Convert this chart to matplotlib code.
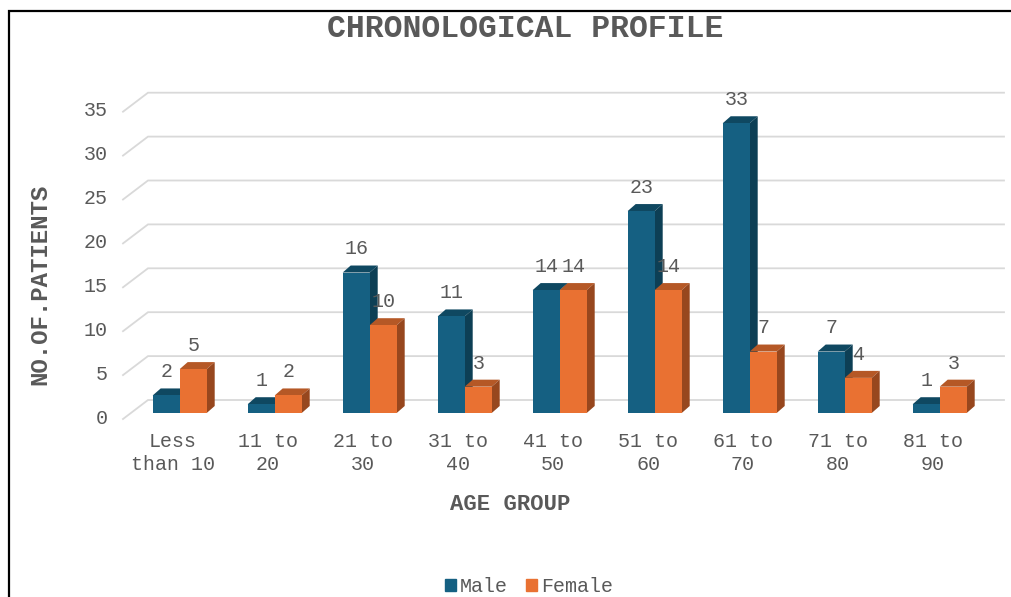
import numpy as np
import matplotlib.pyplot as plt
from matplotlib.lines import Line2D
from matplotlib.patches import Patch
from matplotlib.transforms import ScaledTranslation

categories = ['Less\nthan 10', '11 to\n20', '21 to\n30', '31 to\n40', '41 to\n50',
              '51 to\n60', '61 to\n70', '71 to\n80', '81 to\n90']
male = [2, 1, 16, 11, 14, 23, 33, 7, 1]
female = [5, 2, 10, 3, 14, 14, 7, 4, 3]
yticks = [0, 5, 10, 15, 20, 25, 30, 35]

W, H = 1011, 597
TXT = '#595959'
plt.rcParams['font.family'] = ['Liberation Mono', 'DejaVu Sans']

fig = plt.figure(figsize=(W / 100, H / 100), dpi=100)

# plot area in pixels: front plane of the 3D box
ax = fig.add_axes([125 / W, 1 - 413 / H, 855 / W, 307.3 / H])
for s in ax.spines.values():
    s.set_visible(False)

# px to data sizes
px_x = 1 / 95
px_y = 35 / 307.3
dx = 8 * px_x
dy = 7 * px_y
bar_w = 27 * px_x


def bar3d(x, vals, front, top, side, z):
    ax.bar(x, vals, bar_w, align='edge', color=front, zorder=z + 1, clip_on=False)
    for xi, v in zip(x, vals):
        ax.fill([xi, xi + dx, xi + bar_w + dx, xi + bar_w],
                [v, v + dy, v + dy, v], color=top, lw=0, zorder=z, clip_on=False)
        ax.fill([xi + bar_w, xi + bar_w + dx, xi + bar_w + dx, xi + bar_w],
                [0, dy, v + dy, v], color=side, lw=0, zorder=z, clip_on=False)


# floor / wall gridlines
for v in yticks:
    ax.plot([-0.6, -32 * px_x, 824 * px_x],
            [v - 6 * px_y, v + 13 * px_y, v + 13 * px_y],
            color='#d9d9d9', lw=1.3, zorder=1, clip_on=False, solid_joinstyle='miter')

x = np.arange(len(categories))
bar3d(x - bar_w - 0.3 * px_x, male, '#156082', '#0f4861', '#0d3f55', 3)
bar3d(x - 0.3 * px_x, female, '#e97132', '#b55826', '#97471e', 5)

# data labels
for xi, m, f in zip(x, male, female):
    ax.annotate(str(m), (xi - bar_w / 2, m), xytext=(0, 17), textcoords='offset points',
                ha='center', va='center', fontsize=14.4, color=TXT, zorder=8)
    ax.annotate(str(f), (xi + bar_w / 2, f), xytext=(0, 17), textcoords='offset points',
                ha='center', va='center', fontsize=14.4, color=TXT, zorder=8)

ax.set_xticks(x - 7 * px_x, categories, fontsize=14.4, color=TXT, linespacing=1.25)
ax.set_yticks(yticks, yticks, fontsize=14.4, color=TXT)
ax.tick_params(axis='x', length=0, pad=14)
ax.tick_params(axis='y', length=0, pad=12.5)

# y labels sit a little under their value
shift = ScaledTranslation(0, -3 / 100, fig.dpi_scale_trans)
for lab in ax.get_yticklabels():
    lab.set_transform(lab.get_transform() + shift)

ax.set_xlim(-55 / 95, 800 / 95)
ax.set_ylim(0, 35)

fig.text(525 / W, 1 - 29 / H, 'CHRONOLOGICAL PROFILE', ha='center', va='center',
         fontsize=22.6, fontweight='bold', color=TXT)
fig.text(510 / W, 1 - 505 / H, 'AGE GROUP', ha='center', va='center',
         fontsize=16, fontweight='bold', color=TXT)
fig.text(40 / W, 1 - 284 / H, 'NO.OF.PATIENTS', ha='center', va='center', rotation=90,
         fontsize=17.3, fontweight='bold', color=TXT)

handles = [Patch(color='#156082', label='Male'), Patch(color='#e97132', label='Female')]
fig.legend(handles=handles, loc='center', bbox_to_anchor=(529 / W, 1 - 587 / H), ncol=2,
           frameon=False, fontsize=14.4, labelcolor=TXT, handlelength=0.55, handleheight=0.55,
           handletextpad=0.2, columnspacing=0.9, borderpad=0, borderaxespad=0)

# black frame from the screenshot
fig.add_artist(Line2D([9 / W, 9 / W, 1], [0, 1 - 11 / H, 1 - 11 / H], color='black', lw=1.6,
                      solid_joinstyle='miter'))

fig.savefig('out.png', dpi=100)
